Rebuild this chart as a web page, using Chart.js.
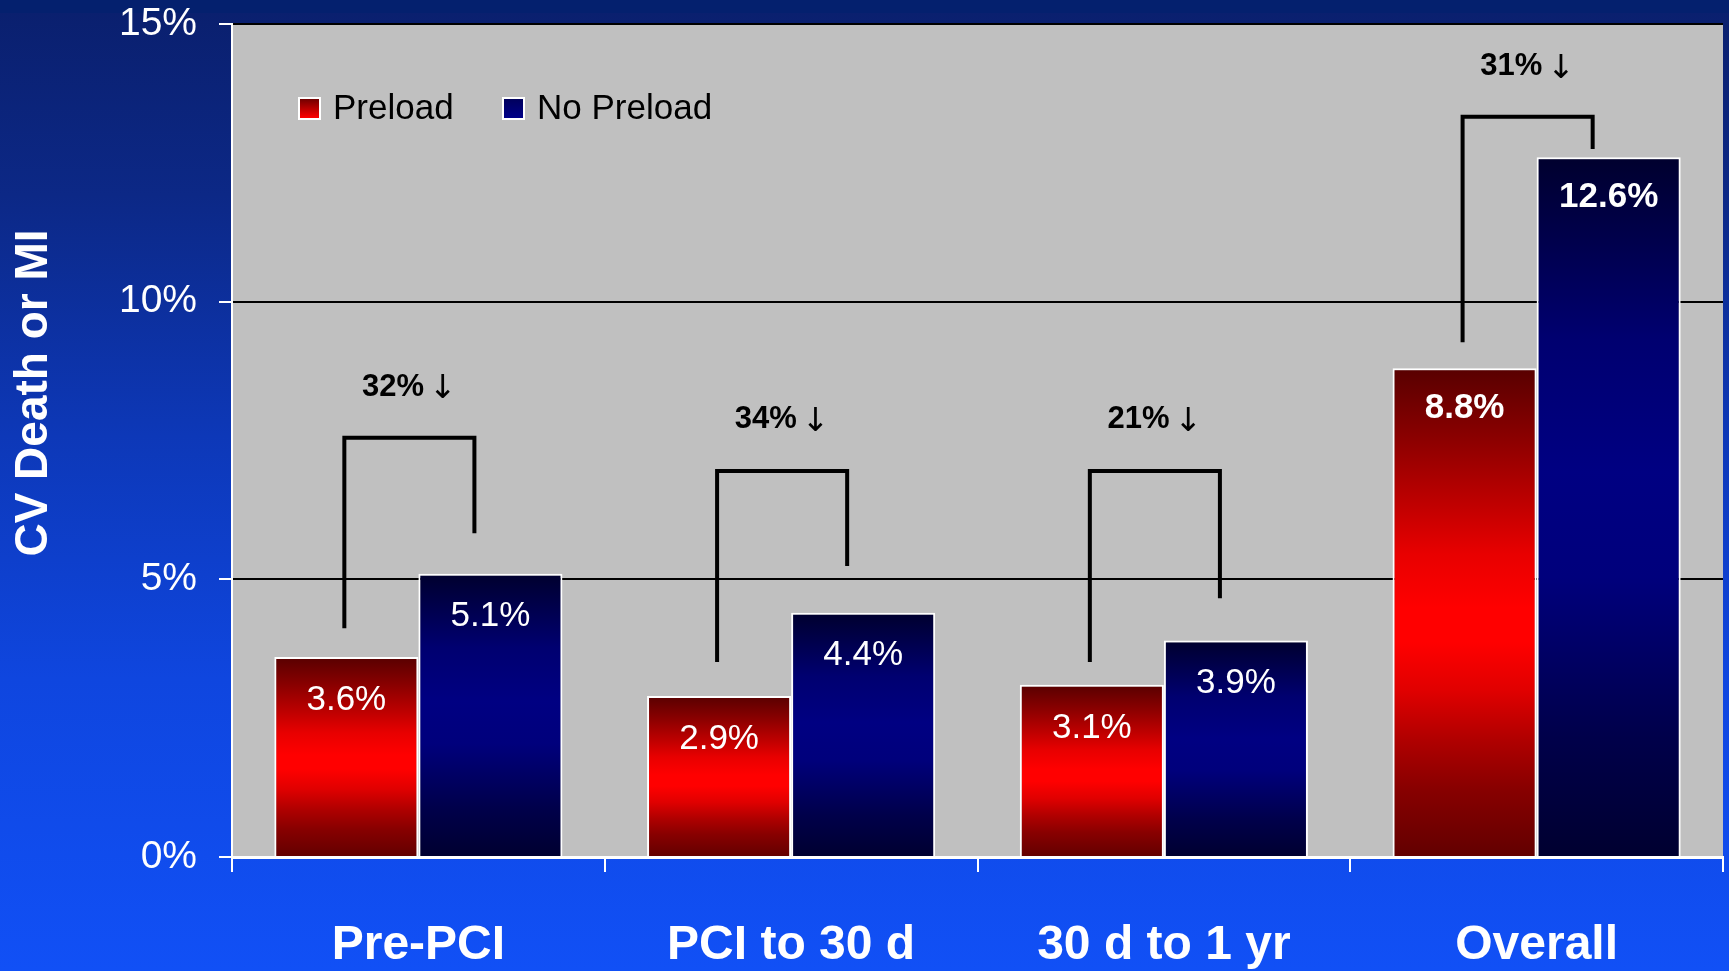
<!DOCTYPE html>
<html>
<head>
<meta charset="utf-8">
<script src="https://cdn.jsdelivr.net/npm/chart.js@4.4.1/dist/chart.umd.min.js"></script>
<style>
  html, body {
    margin: 0;
    padding: 0;
    width: 1729px;
    height: 971px;
    overflow: hidden;
    background:
      linear-gradient(to bottom, #04206e 0px, #04206e 13px, rgba(0,0,0,0) 13px),
      linear-gradient(to bottom, #0a1f6d 0%, #0c2886 20%, #0d38b8 45%, #0f46df 70%, #1150f6 100%);
  }
  #wrap { position: relative; width: 1729px; height: 971px; }
</style>
</head>
<body>
<div id="wrap"><canvas id="chart" width="1729" height="971"></canvas></div>
<script>
// Categories, series and axis ticks
const categories = ['Pre-PCI', 'PCI to 30 d', '30 d to 1 yr', 'Overall'];
const preload = [3.6, 2.9, 3.1, 8.8];
const noPreload = [5.1, 4.4, 3.9, 12.6];
const yTicks = [0, 5, 10, 15];
const yTitle = 'CV Death or MI';

// Relative reduction annotations and the levels (in %) of their brackets
const reductions = ['32%', '34%', '21%', '31%'];
const bracketTop = [7.55, 6.95, 6.95, 13.33];
const bracketLeftEnd = [4.12, 3.51, 3.51, 9.27];
const bracketRightEnd = [5.83, 5.24, 4.66, 12.75];
const reductionLabelAt = [8.46, 7.87, 7.87, 14.23];

const FONT = '"Liberation Sans", Arial, Helvetica, sans-serif';
const ARROW_FONT = '"DejaVu Sans", sans-serif';
Chart.defaults.font.family = FONT;
Chart.defaults.color = '#ffffff';

const redStops = [
  [0, '#580000'], [0.14, '#8a0000'], [0.28, '#c00000'], [0.38, '#e80000'],
  [0.49, '#ff0000'], [0.56, '#ff0000'], [0.66, '#e00000'], [0.76, '#b00000'],
  [0.86, '#880000'], [1, '#620000']
];
const blueStops = [
  [0, '#00002e'], [0.26, '#000070'], [0.45, '#000082'], [0.6, '#00007c'],
  [0.83, '#00004a'], [1, '#000030']
];

// Vertical gradient spanning each bar from its top to the zero line
function barGradient(context, stops) {
  const chart = context.chart;
  if (!chart.chartArea || !chart.scales.y) return stops[1][1];
  const y = chart.scales.y;
  const top = y.getPixelForValue(context.raw);
  const base = y.getPixelForValue(0);
  const g = chart.ctx.createLinearGradient(0, top, 0, base);
  stops.forEach(s => g.addColorStop(s[0], s[1]));
  return g;
}

// Silver plotting area
const plotBackground = {
  id: 'plotBackground',
  beforeDraw(chart) {
    const { ctx, chartArea: a } = chart;
    ctx.save();
    ctx.fillStyle = '#c0c0c0';
    ctx.fillRect(a.left, a.top, a.right - a.left, a.bottom - a.top);
    ctx.restore();
  }
};

// Rotated axis title
const axisTitle = {
  id: 'axisTitle',
  afterDraw(chart) {
    const { ctx } = chart;
    ctx.save();
    ctx.translate(34, 393);
    ctx.rotate(-Math.PI / 2);
    ctx.font = 'bold 46px ' + FONT;
    ctx.fillStyle = '#ffffff';
    ctx.textAlign = 'center';
    ctx.textBaseline = 'middle';
    ctx.fillText(yTitle, 0, 0);
    ctx.restore();
  }
};

// Legend drawn inside the plotting area
const innerLegend = {
  id: 'innerLegend',
  afterDraw(chart) {
    const { ctx, chartArea: a } = chart;
    const cy = a.top + 84;
    const items = [
      { x: a.left + 67, stops: [[0, '#6a0000'], [1, '#ff0000']] },
      { x: a.left + 271, stops: [[0, '#00005a'], [1, '#000088']] }
    ];
    ctx.save();
    chart.data.datasets.forEach((ds, i) => {
      const it = items[i];
      const g = ctx.createLinearGradient(0, cy - 10, 0, cy + 10);
      it.stops.forEach(s => g.addColorStop(s[0], s[1]));
      ctx.fillStyle = g;
      ctx.fillRect(it.x, cy - 10, 21, 21);
      ctx.strokeStyle = '#ffffff';
      ctx.lineWidth = 2;
      ctx.strokeRect(it.x, cy - 10, 21, 21);
      ctx.fillStyle = '#000000';
      ctx.font = '35px ' + FONT;
      ctx.textAlign = 'left';
      ctx.textBaseline = 'middle';
      ctx.fillText(ds.label, it.x + 34, cy + 1);
    });
    ctx.restore();
  }
};

// Values written inside the top of each bar
const valueLabels = {
  id: 'valueLabels',
  afterDatasetsDraw(chart) {
    const { ctx } = chart;
    ctx.save();
    ctx.fillStyle = '#ffffff';
    ctx.textAlign = 'center';
    ctx.textBaseline = 'middle';
    chart.data.datasets.forEach((ds, di) => {
      const meta = chart.getDatasetMeta(di);
      meta.data.forEach((el, i) => {
        const bold = i === categories.length - 1;
        ctx.font = (bold ? 'bold ' : '') + '35px ' + FONT;
        ctx.fillText(ds.data[i].toFixed(1) + '%', el.x, el.y + (bold ? 40 : 43));
      });
    });
    ctx.restore();
  }
};

// Brackets linking each pair of bars with the relative reduction
const reductionBrackets = {
  id: 'reductionBrackets',
  afterDatasetsDraw(chart) {
    const { ctx } = chart;
    const y = chart.scales.y;
    const red = chart.getDatasetMeta(0).data;
    const blue = chart.getDatasetMeta(1).data;
    ctx.save();
    ctx.strokeStyle = '#000000';
    ctx.lineWidth = 4;
    ctx.lineJoin = 'miter';
    ctx.lineCap = 'butt';
    categories.forEach((c, i) => {
      const xl = red[i].x - 2;
      const xr = blue[i].x - 16;
      const yt = y.getPixelForValue(bracketTop[i]);
      ctx.beginPath();
      ctx.moveTo(xl, y.getPixelForValue(bracketLeftEnd[i]));
      ctx.lineTo(xl, yt);
      ctx.lineTo(xr, yt);
      ctx.lineTo(xr, y.getPixelForValue(bracketRightEnd[i]));
      ctx.stroke();

      // "NN% ↓" centred over the bracket
      const ly = y.getPixelForValue(reductionLabelAt[i]);
      const pct = reductions[i];
      ctx.font = 'bold 31px ' + FONT;
      const wPct = ctx.measureText(pct).width;
      ctx.font = '33px ' + ARROW_FONT;
      const wArrow = ctx.measureText('\u2193').width;
      const gap = 5;
      const x0 = (xl + xr) / 2 - (wPct + gap + wArrow) / 2;
      ctx.fillStyle = '#000000';
      ctx.textAlign = 'left';
      ctx.textBaseline = 'middle';
      ctx.font = 'bold 31px ' + FONT;
      ctx.fillText(pct, x0, ly);
      ctx.textBaseline = 'alphabetic';
      ctx.font = '33px ' + ARROW_FONT;
      ctx.fillText('\u2193', x0 + wPct + gap, ly + 11);
    });
    ctx.restore();
  }
};

new Chart(document.getElementById('chart'), {
  type: 'bar',
  data: {
    labels: categories,
    datasets: [
      {
        label: 'Preload',
        data: preload,
        backgroundColor: c => barGradient(c, redStops),
        borderColor: '#ffffff',
        borderWidth: 2,
        categoryPercentage: 0.773,
        barPercentage: 1.0
      },
      {
        label: 'No Preload',
        data: noPreload,
        backgroundColor: c => barGradient(c, blueStops),
        borderColor: '#ffffff',
        borderWidth: 2,
        categoryPercentage: 0.773,
        barPercentage: 1.0
      }
    ]
  },
  options: {
    responsive: false,
    animation: false,
    devicePixelRatio: 1,
    layout: { padding: { top: 24, right: 6, left: 0, bottom: 0 } },
    plugins: {
      legend: { display: false },
      tooltip: { enabled: false }
    },
    scales: {
      x: {
        grid: {
          display: true,
          drawOnChartArea: false,
          drawTicks: true,
          tickLength: 15,
          tickColor: '#ffffff',
          lineWidth: 2,
          offset: true
        },
        border: { display: true, color: '#ffffff', width: 3 },
        ticks: {
          color: '#ffffff',
          font: { size: 48, weight: 'bold' },
          padding: 45,
          maxRotation: 0,
          autoSkip: false
        },
        afterFit: s => { s.height = 114; s.paddingLeft = 0; s.paddingRight = 0; }
      },
      y: {
        min: 0,
        max: 15,
        afterBuildTicks: s => { s.ticks = yTicks.map(v => ({ value: v })); },
        ticks: {
          color: '#ffffff',
          font: { size: 39 },
          padding: 22,
          callback: v => v + '%'
        },
        grid: {
          color: c => (c.tick && c.tick.value === 0) ? 'rgba(0,0,0,0)' : '#000000',
          lineWidth: 2,
          tickLength: 13,
          tickColor: '#ffffff'
        },
        border: { display: true, color: '#ffffff', width: 2 },
        afterFit: s => { s.width = 232; s.paddingTop = 0; s.paddingBottom = 0; }
      }
    }
  },
  plugins: [plotBackground, reductionBrackets, valueLabels, innerLegend, axisTitle]
});
</script>
</body>
</html>
